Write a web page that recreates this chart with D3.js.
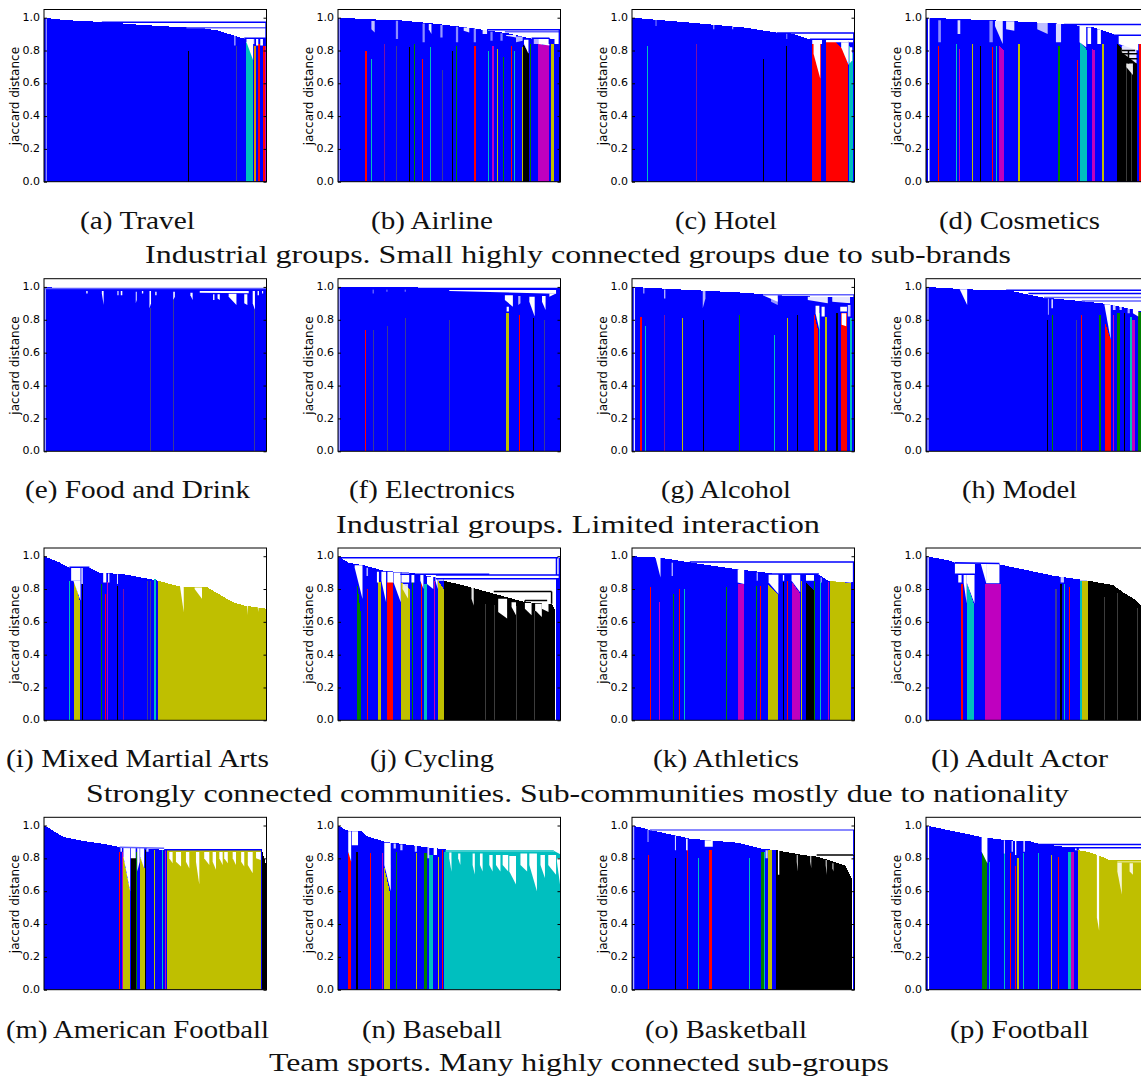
<!DOCTYPE html>
<html><head><meta charset="utf-8">
<script src="https://cdn.jsdelivr.net/npm/d3@7"></script>
<style>html,body{margin:0;padding:0;background:#fff;overflow:hidden}svg{display:block}</style>
</head><body><div id="chart"></div>
<script>
// x = position along the leaf axis (0-100), y = jaccard distance.
const yTicks = [0, 0.2, 0.4, 0.6, 0.8, 1.0];
const palette = {b:"#0000ff", g:"#008000", r:"#ff0000", c:"#00bfbf", m:"#bf00bf", y:"#bfbf00", k:"#000000", a:"#3a3a9a", o:"#d89000", p:"#7a10a8", l:"#6060ff", d:"#3c3c3c", e:"#e0e070"};

// ---- (a) Travel
const envA = [[0,1],[10,.985],[26,.974],[45,.955],[64.4,.94],[72,.935],[78,.922],[85,.893],[90,.872],[100,.87]];
const bandA = [[64.8,65.1,"k",.8,.8],[86.4,86.8,"a",.83,.83],[90.9,93.8,"c",.85,.84],[94.6,95.3,"o",.83,.83],[96.4,97.2,"r",.84,.84],[98.5,99.2,"r",.83,.83],[99.2,100,"m",.83,.83]];
const notchA = [[.8,1.2,1,0,0,.8],[85.6,86,.89,.83,.83],[91,94,.872,.85,.74],[94,94.5,.872,.84,.84],[95.3,96.3,.872,.83,.83],[97.2,98.4,.872,.83,.83]];
const linkA = [[26,.972,100,.972,"b"],[64,.938,100,.938,"l"],[90,.875,100,.875,"b"],[99.8,.87,99.8,.972,"b"]];

// ---- (b) Airline
const envB = [[0,1],[15,.99],[27.8,.984],[44,.963],[60,.937],[77,.903],[87,.872],[100,.87]];
const bandB = [[12.3,13,"r",.8,.8],[15,15.4,"c",.75,.75],[20.8,21.3,"p",.84,.84],[26,26.4,"a",.83,.83],[32,32.4,"k",.82,.82],[34.2,34.6,"g",.84,.84],[37.7,38.3,"r",.75,.75],[41.2,41.6,"c",.82,.82],[46.6,47.2,"a",.68,.68],[51.3,51.8,"k",.8,.8],[52.9,53.6,"g",.83,.83],[60.9,61.9,"r",.83,.83],[67.5,67.9,"c",.8,.8],[69.3,69.9,"m",.83,.83],[71.6,72.1,"y",.81,.81],[74.1,74.6,"g",.76,.76],[77.7,78.1,"r",.83,.83],[79.2,79.6,"c",.8,.8],[82.8,83.2,"y",.82,.82],[83.2,85.9,"k",.84,.78],[86.1,86.6,"g",.84,.84],[87,87.4,"r",.75,.75],[90,94.9,"m",.84,.83],[95.9,97.2,"y",.84,.84],[99.4,100,"k",.76,.76]];
const notchB = [[.3,.8,.998,0,0,.7],[15,16.5,.98,.93,.91,.75],[26,27,.982,.87,.87,.55],[38,39,.965,.85,.85,.55],[40.8,42,.962,.93,.9,.9],[46,47,.955,.88,.88,.6],[53,54,.945,.85,.85,.55],[56.5,59,.94,.92,.91,.9],[61,62,.935,.85,.85,.55],[65,67,.925,.9,.9,.9],[68.5,69.5,.915,.86,.86,.5],[73,74,.905,.86,.86,.5],[75.5,80,.895,.89,.88,.9],[80,83,.885,.85,.86,.7],[83.6,85.6,.865,.84,.78],[88,90,.87,.84,.84,.7],[90,95,.87,.84,.83],[97.3,99.3,.875,.84,.84]];
const linkB = [[67,.927,100,.927,"b"],[75,.915,100,.915,"l"],[87,.875,95,.875,"b"],[99.5,.83,99.5,.927,"b"],[95,.875,95,.84,"b"]];

// ---- (c) Hotel
const envC = [[0,1],[26,.97],[50.7,.94],[65.5,.908],[72,.903],[80.2,.866],[100,.86]];
const bandC = [[6.7,7.1,"c",.83,.83],[28.9,29.2,"p",.84,.84],[45.7,46,"p",.8,.8],[58.9,59.2,"k",.75,.75],[69.4,69.8,"k",.83,.83],[81,85.1,"r",.84,.84],[87.4,91.5,"r",.85,.85],[91.5,94,"r",.85,.82],[94,96,"r",.82,.76],[96,97.2,"r",.76,.71],[97.4,99.2,"c",.84,.78]];
const notchC = [[10.6,11,.99,.95,.95,.6],[36.5,37,.96,.93,.93,.7],[45,45.5,.95,.93,.93,.7],[69.3,69.8,.905,.87,.87,.5],[81,85.4,.866,.84,.84],[81.6,84.6,.84,.78,.63],[87.2,97.4,.866,.85,.85],[94,97.4,.85,.82,.71],[97.3,99.4,.866,.85,.85],[97.8,99,.82,.72,.74]];
const linkC = [[65,.907,100,.907,"b"],[80,.868,100,.868,"b"],[99.7,.84,99.7,.907,"b"]];

// ---- (d) Cosmetics
const envD = [[0,1],[36.5,.98],[61,.963],[75.8,.94],[85.6,.893],[87,.89],[100,.89]];
const bandD = [[5.3,5.8,"r",.83,.83],[13.3,14,"c",.84,.84],[14.8,15.3,"m",.81,.81],[20.7,21.3,"y",.84,.84],[24.3,24.8,"k",.83,.83],[29.8,30.2,"r",.82,.82],[31.3,32,"c",.83,.83],[33,35.2,"m",.83,.8],[41.5,42.3,"y",.84,.84],[53.3,53.7,"k",.67,.67],[59.5,60,"g",.83,.83],[67.8,68.2,"r",.74,.74],[69.4,72.5,"c",.85,.8],[74.5,76.1,"m",.81,.8],[79.2,79.8,"y",.84,.84],[86,87.5,"k",.84,.82],[87.5,95,"k",.82,.72],[95.8,97.5,"r",.84,.84],[90,90.4,"d",.7,.7],[92,92.4,"d",.7,.7]];
const notchD = [[.9,1.6,1,0,0],[5.5,6.7,.985,.85,.85,.55],[14.2,15.4,.985,.9,.9,.85],[28.5,30,.982,.85,.85,.55],[31,34.5,.98,.95,.84,.9],[36,39.7,.978,.93,.92,.9],[50,54.7,.968,.93,.9,.75],[58.4,60.7,.965,.85,.85,.85],[69,72,.95,.85,.82],[72.6,74.2,.94,.84,.84],[77,78.6,.93,.84,.84],[86.6,95.4,.888,.84,.8],[88,94.6,.83,.79,.72,.9],[90,93,.72,.7,.65,.9],[95.2,97.5,.888,.84,.84]];
const linkD = [[62,.958,100,.958,"b"],[84,.893,100,.893,"b"],[88,.78,95,.78,"k"],[88,.80,94,.80,"k"],[90,.75,95,.75,"k"],[88,.78,88,.72,"k"],[91,.8,91,.72,"k"]];

// ---- (e) Food and Drink
const envE = [[0,1],[10,.99],[100,.99]];
const bandE = [[47.6,47.9,"a",.87,.87],[94.4,94.8,"a",.86,.86],[58.2,58.5,"a",.92,.92]];
const notchE = [[.3,.8,.998,0,0,.8],[19,19.6,.975,.96,.96],[26,26.8,.975,.96,.89],[33,33.5,.975,.95,.95],[34.5,35.2,.975,.95,.95],[41.2,41.8,.97,.9,.92,.7],[44,44.6,.975,.96,.96],[47.4,48.1,.975,.87,.9],[50,50.6,.97,.95,.95],[58.1,58.8,.97,.92,.94],[65.8,66.8,.965,.95,.92],[76,76.6,.955,.92,.92],[78,79,.955,.93,.92],[83,86.5,.958,.94,.89],[90,91.4,.955,.9,.89],[93.8,94.8,.975,.9,.86],[96,96.6,.975,.95,.95],[98,98.5,.975,.96,.96],[70,92,.975,.965,.962]];
const linkE = [[0,.99,100,.99,"l"]];

// ---- (f) Electronics
const envF = [[0,1],[50,.995],[100,.99]];
const bandF = [[12.2,12.5,"r",.74,.74],[15.8,16.1,"a",.74,.74],[22,22.3,"a",.76,.76],[30.2,30.6,"a",.81,.81],[50,50.3,"a",.8,.8],[64.5,64.8,"p",.79,.79],[75.6,76.8,"y",.84,.84],[81.4,81.7,"r",.83,.83],[87.5,88.2,"k",.81,.81],[92.6,93.1,"a",.8,.8]];
const notchF = [[.2,.8,.998,0,0,.8],[15.6,16,.985,.96,.96,.6],[21.8,22.2,.985,.97,.97,.6],[30,30.4,.985,.97,.97,.6],[50,98,.982,.975,.958],[75,78.6,.95,.92,.88],[75.8,76.8,.88,.85,.85],[81,82,.945,.89,.9,.7],[86,88.4,.94,.91,.82],[91.7,93.3,.945,.91,.86],[95,98,.96,.94,.96]];
const linkF = [[0,.99,100,.99,"b"]];

// ---- (g) Alcohol
const envG = [[0,1],[21,.985],[50,.965],[60,.955],[70,.945],[85,.94],[100,.94]];
const bandG = [[3.6,4.3,"r",.82,.82],[5.9,6.3,"c",.76,.76],[14.4,14.8,"p",.83,.83],[22.4,22.8,"y",.81,.81],[31.8,32.2,"k",.8,.8],[48.1,48.5,"g",.83,.83],[60.9,61.3,"r",.85,.85],[63.9,64.2,"c",.71,.71],[69.7,70.1,"y",.81,.81],[74.1,74.6,"k",.83,.83],[81.8,83.5,"r",.84,.74],[84.1,84.6,"c",.84,.84],[86.7,87.6,"y",.82,.82],[91.5,92.5,"k",.84,.84],[93.8,96.6,"r",.84,.84],[98.2,98.7,"c",.81,.81]];
const notchG = [[.8,1.3,1,0,0],[5,5.6,.995,.96,.96,.6],[14.4,15,.985,.93,.93,.7],[31.8,33,.98,.87,.93,.7],[59,65.5,.955,.948,.91],[62.5,65.5,.93,.91,.89,.6],[79,88,.94,.92,.9,.9],[82.5,84.2,.89,.84,.74],[85.2,86.6,.88,.82,.82],[90,98,.945,.91,.9,.9],[93.6,96.6,.88,.85,.85],[94.2,96.3,.84,.77,.76],[97,98.2,.89,.82,.82,.8]];
const linkG = [[59,.952,100,.952,"l"],[79,.89,88,.89,"b"],[90,.895,98,.895,"b"],[99.8,.89,99.8,.952,"b"]];

// ---- (h) Model
const envH = [[0,1],[18.5,.985],[36.5,.98],[52.9,.935],[69,.915],[82,.895],[90.5,.87],[97,.85],[100,.85]];
const bandH = [[54.2,54.9,"k",.8,.8],[56.6,57.3,"g",.83,.83],[67.3,67.7,"a",.8,.8],[69.6,70,"r",.83,.83],[77.9,78.6,"g",.83,.83],[80.6,83,"r",.78,.68],[84,84.5,"m",.83,.83],[86,87,"g",.84,.84],[89.2,89.6,"k",.84,.84],[92.4,94,"m",.8,.8],[91.6,92.4,"c",.82,.82],[95.4,100,"g",.85,.85]];
const notchH = [[.7,1.1,1,0,0],[15.2,18.5,.986,.985,.89],[54.8,55.2,.93,.83,.83,.7],[56.4,57,.925,.87,.87],[80.2,83,.895,.89,.68],[84,85.2,.89,.86,.86,.8],[87,88,.88,.86,.86,.8],[90.6,91.6,.87,.84,.84,.7],[93,95.4,.865,.84,.82]];
const linkH = [[36,.98,100,.98,"b"],[46,.96,100,.96,"b"],[53,.936,100,.936,"l"],[70,.915,100,.915,"l"]];

// ---- (i) Mixed Martial Arts
const envI = [[0,1],[6.5,.965],[11.4,.93],[20.4,.93],[25,.9],[36,.89],[45.7,.865],[51.6,.85]];
const bandI = [[51.4,61,"y",.85,.815],[61,73.4,"y",.815,.81],[73.4,84.8,"y",.81,.72],[84.8,89.7,"y",.72,.7],[89.7,100,"y",.7,.68],[11.4,11.9,"c",.85,.85],[13.7,16,"y",.85,.73],[17.2,17.6,"k",.83,.83],[25.6,26,"g",.83,.83],[27.2,27.8,"r",.77,.77],[28.2,28.9,"m",.84,.84],[32.8,33.2,"k",.82,.82],[35.7,36.1,"p",.8,.8],[42.5,42.9,"p",.8,.8],[46.4,46.8,"a",.85,.85],[47.6,48,"a",.85,.85],[49.6,50.4,"c",.86,.86]];
const notchI = [[12.2,16.4,.932,.85,.85],[13.2,16.4,.85,.85,.73],[16.8,17.4,.93,.83,.83],[26.6,28,.898,.84,.84],[28.8,29.4,.895,.84,.84],[32.8,33.2,.89,.83,.83],[61.2,62.8,.815,.81,.66],[67.7,71,.81,.8,.74],[91.2,91.6,.7,.7,.64],[96,96.4,.69,.69,.66]];
const linkI = [[11.4,.932,20.4,.932,"b"]];

// ---- (j) Cycling
const envJ = [[0,1],[4.9,.96],[11.5,.945],[21,.91],[32.7,.9],[47.8,.86]];
const bandJ = [[47.8,57,"k",.85,.82],[57,70.6,"k",.82,.77],[70.6,84,"k",.77,.72],[84,96,"k",.72,.71],[96,97.7,"k",.71,.67],[98.2,100,"b",.865,.865],[8.6,10.5,"g",.84,.62],[13,13.3,"r",.8,.8],[18,19.3,"y",.84,.84],[22.2,24.8,"r",.84,.84],[28.5,32.3,"y",.84,.8],[33.3,33.8,"g",.84,.84],[37.4,37.8,"r",.85,.85],[38.5,40,"c",.83,.83],[43.2,43.7,"m",.85,.85],[45,47.5,"y",.85,.8],[56,56.4,"d",.78,.66],[66,66.4,"d",.74,.7],[70,70.4,"d",.74,.7],[80,80.4,"d",.72,.68],[88,88.4,"d",.7,.66]];
const notchJ = [[7.5,11,.945,.93,.74],[12.8,13.5,.93,.88,.88,.7],[17.5,18.4,.905,.84,.84],[19.5,21.6,.905,.85,.72],[22.2,24.8,.905,.84,.84],[25,28.2,.9,.84,.72],[29,31.5,.83,.8,.74,.8],[28.5,32,.9,.84,.84],[33,34.3,.89,.84,.84],[37,38.4,.885,.85,.8],[40,42.8,.875,.83,.8],[43.8,44.8,.875,.85,.8],[45,47.5,.865,.85,.85],[60,61,.81,.74,.7,.9],[72,76,.74,.66,.62],[78,80,.72,.69,.64],[84,87,.715,.68,.64],[88.6,91.6,.71,.67,.63],[91.6,94.6,.72,.68,.66]];
const linkJ = [[0,.99,99,.99,"b"],[44,.885,100,.885,"b"],[44,.863,100,.863,"b"],[28,.89,68,.89,"b"],[70,.785,96,.785,"k"],[84,.73,94,.73,"k"],[96,.785,96,.71,"k"],[84,.73,84,.72,"k"],[98.2,.885,98.2,.99,"b"],[99.5,.865,99.5,.99,"b"]];

// ---- (k) Athletics
const envK = [[0,1],[13,.99],[29.5,.955],[47.5,.92],[57.3,.905],[65.5,.89],[83.5,.89],[89,.845],[100,.84]];
const bandK = [[8,8.4,"r",.81,.81],[12,12.4,"m",.72,.72],[18.3,18.8,"g",.77,.77],[21.1,21.5,"r",.8,.8],[23.4,23.8,"c",.8,.8],[33.5,33.9,"g",.82,.82],[42.3,42.7,"g",.81,.81],[47.5,50.2,"m",.83,.83],[55.8,56.2,"g",.82,.82],[57.6,58,"r",.82,.82],[60.9,65.6,"y",.83,.77],[67.9,68.5,"k",.84,.84],[69.8,70.3,"r",.85,.85],[72,75.6,"m",.84,.77],[75.9,76.4,"y",.85,.85],[78.2,81.8,"k",.84,.79],[81.8,82.3,"g",.85,.85],[84.6,85,"c",.84,.84],[85.2,85.6,"r",.84,.84],[88,88.6,"m",.84,.84],[89,98.5,"y",.85,.835]];
const notchK = [[10.6,12.8,.995,.99,.87],[17.8,18.4,.96,.88,.88,.7],[47.5,50.4,.92,.84,.83],[56,56.6,.9,.85,.85,.7],[61.4,65.8,.892,.84,.77],[67.8,68.4,.885,.85,.85],[71.7,75.6,.89,.85,.78],[78.2,81.8,.885,.85,.85],[84.8,85.2,.87,.84,.84],[89,98.5,.85,.85,.838]];
const linkK = [[26,.965,100,.965,"b"],[99.6,.84,99.6,.965,"b"],[61,.892,84,.892,"b"]];

// ---- (l) Adult Actor
const envL = [[0,1],[10.3,.975],[12.8,.96],[33,.95],[57.7,.88],[73.2,.85]];
const bandL = [[73,84,"k",.85,.825],[84,88.6,"k",.825,.78],[88.6,93.5,"k",.78,.74],[93.5,97.5,"k",.74,.69],[15.8,16.8,"r",.83,.83],[18.3,21.4,"c",.84,.71],[26.7,33.5,"m",.83,.83],[58.2,58.8,"a",.8,.8],[60.2,61.2,"k",.83,.83],[62,62.5,"c",.83,.83],[64.3,64.8,"r",.81,.81],[69.2,70.2,"c",.85,.85],[70.2,72.7,"y",.85,.85],[80,80.4,"d",.82,.7],[86,86.4,"d",.79,.7],[95,95.4,"d",.7,.6]];
const notchL = [[.7,1.2,1,0,0],[13,22,.955,.89,.89],[14.5,16,.885,.84,.84],[16.9,18.3,.885,.84,.71],[18.3,21.8,.885,.84,.71],[24.6,27,.955,.955,.84],[27,33,.955,.835,.835],[60.5,62,.875,.84,.84,.8],[69.2,73,.86,.85,.85]];
const linkL = [[12.8,.96,33,.955,"b"],[13,.89,22,.89,"b"]];

// ---- (m) American Football
const envM = [[0,1],[1.6,.99],[4.9,.96],[9,.93],[17,.907],[26,.89],[34.3,.868],[49,.858],[53.8,.85],[98,.85],[98.2,.85]];
const bandM = [[33.6,34.1,"r",.84,.84],[35,35.5,"m",.84,.84],[35.7,38.7,"y",.81,.6],[39,41.7,"k",.8,.8],[41.2,41.7,"g",.84,.84],[43.2,45.3,"y",.81,.74],[45.3,45.8,"k",.85,.85],[49.4,49.9,"y",.85,.85],[53.1,53.6,"c",.85,.85],[54.2,54.9,"m",.85,.85],[55.1,97.6,"y",.85,.85],[98.2,100,"k",.84,.75]];
const notchM = [[34.4,35,.865,.84,.84],[35.7,38.7,.868,.81,.6],[39,41.2,.865,.8,.8],[41.9,43,.865,.72,.78],[43.2,45,.865,.81,.74],[46,47,.86,.84,.84,.8],[56.3,57.8,.838,.8,.77],[59.3,61.6,.838,.78,.75],[63.8,65.3,.838,.78,.74],[68.3,69.8,.838,.78,.64],[72,74.3,.838,.8,.76],[75.8,77.3,.838,.78,.73],[78.8,80.3,.838,.8,.76],[81,82.6,.838,.8,.77],[84.8,86.3,.838,.8,.76],[88.6,90,.838,.78,.75],[91.6,93.8,.838,.76,.71],[95.3,97.4,.838,.8,.79]];
const linkM = [[54,.852,98,.852,"b"],[34,.868,54,.862,"l"]];

// ---- (n) Baseball
const envN = [[0,1],[4,.97],[10.6,.965],[13,.935],[21.3,.9],[27.8,.89],[39.3,.868],[48.5,.855]];
const bandN = [[47.8,97,"c",.84,.84],[97,100,"c",.84,.82],[4.6,5.9,"r",.84,.78],[8.3,8.8,"k",.84,.84],[14.4,14.8,"r",.83,.83],[19.7,20.1,"m",.83,.83],[20.6,23.2,"y",.76,.6],[26,26.5,"g",.84,.84],[29,29.4,"r",.85,.85],[35,35.5,"y",.83,.83],[38.5,40.1,"g",.83,.83],[41,42.6,"c",.82,.82],[44.8,45.3,"y",.81,.81],[46.8,47.3,"r",.85,.85]];
const notchN = [[4.6,5.9,.965,.84,.78],[6.2,9,.965,.88,.88],[20.8,23.7,.895,.76,.6],[25,26,.89,.86,.86,.8],[28,29,.885,.85,.85,.8],[34.5,35.5,.875,.84,.84,.8],[40.2,41,.87,.8,.8,.8],[43,44.5,.865,.82,.82],[50,51,.835,.8,.72],[54,55,.83,.8,.76],[60.5,61.5,.83,.76,.7],[63.8,65,.83,.76,.72],[68,69.5,.82,.76,.72],[71,73,.82,.76,.72],[74,76.5,.82,.76,.72],[77,80,.815,.72,.64],[82,85,.83,.76,.72],[86,89.4,.83,.76,.6],[91,93,.82,.76,.68],[94.5,98,.82,.76,.7],[98.4,100,.8,.78,.62]];
const linkN = [[48,.845,97,.845,"c"],[97,.84,100,.82,"c"]];

// ---- (o) Basketball
const envO = [[0,1],[6.5,.98],[8,.972],[19.6,.94],[26,.92],[47.5,.895],[58,.86],[64.8,.85]];
const bandO = [[64.6,77,"k",.85,.82],[77,83.5,"k",.82,.81],[83.5,95.8,"k",.81,.757],[95.8,99,"k",.757,.67],[99.2,100,"b",.82,.82],[7.2,7.6,"r",.82,.82],[19.4,19.8,"k",.8,.8],[24.5,25,"r",.85,.85],[29.6,30,"c",.8,.8],[34.5,36,"r",.85,.85],[52.8,53.2,"c",.8,.8],[57.9,59.2,"g",.84,.84],[59.2,59.8,"c",.84,.84],[61,63,"y",.85,.85]];
const notchO = [[.4,1,1,0,0,.7],[7,7.4,.975,.9,.9,.8],[19.3,19.7,.94,.85,.85],[24.3,25,.92,.85,.85],[32.7,36.3,.91,.87,.87],[60,61,.85,.8,.8,.8],[65.6,66.2,.85,.7,.7],[74,74.6,.82,.78,.72,.7],[80,80.6,.815,.78,.74,.7],[87,87.6,.79,.76,.7,.7],[90,90.6,.77,.74,.72,.7]];
const linkO = [[8,.972,100,.972,"l"],[83,.82,100,.82,"k"],[99.7,.82,99.7,.972,"b"]];

// ---- (p) Football
const envP = [[0,1],[25,.93],[36.5,.91],[46.3,.905],[50.4,.89],[68.6,.86]];
const bandP = [[68.4,72.5,"y",.85,.84],[72.5,77.4,"y",.84,.82],[77.4,82.3,"y",.82,.79],[82.3,100,"y",.79,.79],[25.1,27.6,"g",.84,.77],[28.5,28.9,"c",.78,.78],[35,35.4,"c",.83,.83],[37.6,38,"r",.83,.83],[39.8,40.3,"r",.82,.74],[41.1,41.6,"y",.8,.8],[43.6,44,"c",.83,.83],[50.2,50.6,"c",.83,.83],[56.1,56.6,"y",.82,.82],[59.2,59.7,"r",.81,.81],[63.6,65,"c",.84,.84],[65,66.4,"m",.84,.84]];
const notchP = [[.8,1.4,1,0,0],[25,27.6,.93,.84,.77],[35,35.5,.91,.83,.83,.8],[38.5,39,.905,.84,.84],[40,40.6,.905,.82,.82],[43.8,44.4,.905,.84,.84],[76.8,77.8,.82,.44,.36],[86,88,.775,.72,.58,.85],[91.5,93,.77,.72,.7,.85],[67,68.4,.865,.85,.85]];
const linkP = [[50,.885,100,.885,"b"],[60,.865,100,.865,"b"],[86,.78,100,.78,"e"],[68,.865,68,.85,"b"]];

// ---- panel layout
const colLeft = [44, 338, 632, 926];
const panelWidth = 222.5;
const rowTop = [9.5, 278.7, 548, 817.3];
const rowBottom = [181.7, 451.3, 720.3, 989.7];

const envelopes = [envA,envB,envC,envD,envE,envF,envG,envH,envI,envJ,envK,envL,envM,envN,envO,envP];
const bandSets = [bandA,bandB,bandC,bandD,bandE,bandF,bandG,bandH,bandI,bandJ,bandK,bandL,bandM,bandN,bandO,bandP];
const notchSets = [notchA,notchB,notchC,notchD,notchE,notchF,notchG,notchH,notchI,notchJ,notchK,notchL,notchM,notchN,notchO,notchP];
const linkSets = [linkA,linkB,linkC,linkD,linkE,linkF,linkG,linkH,linkI,linkJ,linkK,linkL,linkM,linkN,linkO,linkP];

const captions = [
 ["(a) Travel",80,195,229],["(b) Airline",371,493,229],["(c) Hotel",675,777,229],["(d) Cosmetics",939,1100,229],
 ["(e) Food and Drink",25,250,498],["(f) Electronics",349,515,498],["(g) Alcohol",661,791,498],["(h) Model",962,1077,498],
 ["(i) Mixed Martial Arts",6,269,767],["(j) Cycling",370,494,767],["(k) Athletics",653,799,767],["(l) Adult Actor",931,1108,767],
 ["(m) American Football",6,269,1038],["(n) Baseball",362,502,1038],["(o) Basketball",645,807,1038],["(p) Football",950,1089,1038]
];
const groupTitles = [
 ["Industrial groups. Small highly connected groups due to sub-brands",145,1011,263],
 ["Industrial groups. Limited interaction",336,820,533],
 ["Strongly connected communities. Sub-communities mostly due to nationality",86,1069,802],
 ["Team sports. Many highly connected sub-groups",269,889,1071]
];

const svg = d3.select("#chart").append("svg").attr("width",1141).attr("height",1076);
const SANS = "'DejaVu Sans'";

envelopes.forEach((env, i) => {
  const r = Math.floor(i/4), c = i%4;
  const x = d3.scaleLinear().domain([0,100]).range([colLeft[c], colLeft[c]+panelWidth]);
  const y = d3.scaleLinear().domain([0,1.05]).range([rowBottom[r], rowTop[r]]);
  const cid = "clip"+i;
  svg.append("clipPath").attr("id",cid).append("rect")
    .attr("x",x(0)).attr("y",y(1.05)).attr("width",panelWidth).attr("height",rowBottom[r]-rowTop[r]);
  const g = svg.append("g").attr("clip-path",`url(#${cid})`);

  const area = d3.area().x(d=>x(d[0])).y0(y(0)).y1(d=>y(d[1]));
  g.append("path").datum(env).attr("d",area).attr("fill",palette.b).attr("shape-rendering","crispEdges");

  g.selectAll("path.band").data(bandSets[i]).join("path").attr("class","band")
    .attr("d",d=>area([[d[0],d[3]],[d[1],d[4]]]))
    .attr("fill",d=>palette[d[2]]).attr("shape-rendering","crispEdges");

  const notchArea = d3.area().x(d=>x(d[0])).y0(d=>y(d[2])).y1(d=>y(d[1]));
  g.selectAll("path.notch").data(notchSets[i]).join("path").attr("class","notch")
    .attr("d",d=>notchArea([[d[0],d[2],d[3]],[d[1],d[2],d[4]]]))
    .attr("fill","#fff").attr("fill-opacity",d=>d[5]===undefined?1:d[5]);

  g.selectAll("line.link").data(linkSets[i]).join("line").attr("class","link")
    .attr("x1",d=>x(d[0])).attr("y1",d=>y(d[1])).attr("x2",d=>x(d[2])).attr("y2",d=>y(d[3]))
    .attr("stroke",d=>palette[d[4]]).attr("stroke-width",1.5);

  // frame and inward ticks
  const left = svg.append("g").attr("transform",`translate(${x(0)},0)`)
    .call(d3.axisLeft(y).tickValues(yTicks).tickFormat(d3.format(".1f")).tickSizeInner(-3).tickSizeOuter(0).tickPadding(4));
  left.select(".domain").remove();
  left.selectAll("text").attr("font-family",SANS).attr("font-size",11).attr("fill","#000").attr("dy","0.24em");
  const right = svg.append("g").attr("transform",`translate(${x(100)},0)`)
    .call(d3.axisRight(y).tickValues(yTicks).tickFormat("").tickSizeInner(-3).tickSizeOuter(0));
  right.select(".domain").remove();
  svg.append("rect").attr("x",x(0)).attr("y",y(1.05)).attr("width",panelWidth).attr("height",rowBottom[r]-rowTop[r])
    .attr("fill","none").attr("stroke","#000").attr("stroke-width",1);

  svg.append("text").attr("transform",`translate(${x(0)-25.5},${(rowTop[r]+rowBottom[r])/2+0.5}) rotate(-90)`)
    .attr("text-anchor","middle").attr("font-family",SANS).attr("font-size",12).attr("fill","#000")
    .text("jaccard distance");
});

const serif = "'Liberation Serif'";
captions.concat(groupTitles).forEach(d => {
  svg.append("text").attr("x",d[1]).attr("y",d[3])
    .attr("font-family",serif).attr("font-size",26).attr("fill","#111")
    .attr("textLength",d[2]-d[1]).attr("lengthAdjust","spacingAndGlyphs").text(d[0]);
});
</script></body></html>
